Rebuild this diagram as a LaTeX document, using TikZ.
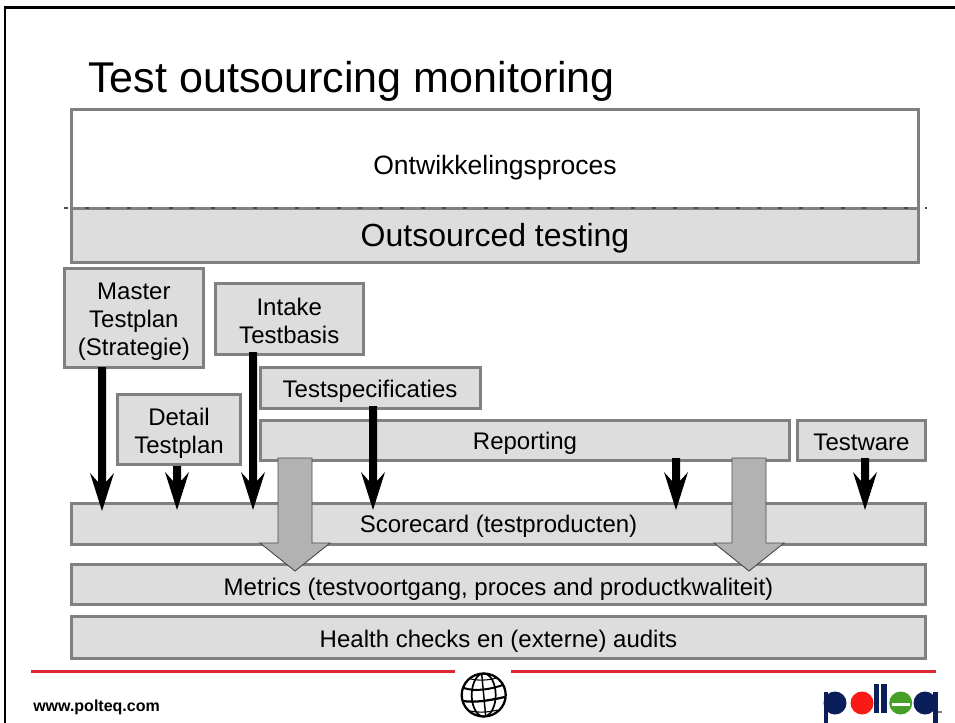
\documentclass[tikz,border=0pt]{standalone}
\usepackage{fontspec}
\setmainfont{Liberation Sans}
\definecolor{boxfill}{RGB}{221,221,221}
\definecolor{boxline}{RGB}{128,128,128}
\definecolor{bigarrow}{RGB}{178,178,178}
\definecolor{redline}{RGB}{221,40,50}
\definecolor{navy}{RGB}{10,30,90}
\definecolor{qred}{RGB}{250,25,20}
\definecolor{qgreen}{RGB}{70,160,40}
\tikzset{
  bx/.style={draw=boxline,fill=boxfill,line width=2.25pt,inner sep=0pt,outer sep=0pt},
  lb/.style={align=center,inner sep=0pt,outer sep=0pt,font=\fontsize{18}{21}\selectfont},
  gry/.style={fill=bigarrow,draw=black!70,line width=0.7pt},
}
% name, x1, y1, x2, y2 (centre line of the border, px), box options, label options, text
\newcommand{\bxn}[8]{\node[bx,minimum width={(#4-#2)*0.75pt},minimum height={(#5-#3)*0.75pt},#6,label={[lb,#7]center:{#8}}] (#1) at ({(#2+#4)/2},{(#3+#5)/2}) {};}
\begin{document}
\begin{tikzpicture}[x=0.75pt,y=-0.75pt]
\useasboundingbox (0,0) rectangle (955,723);
\draw[line width=1.6pt] (5,723) -- (5,7.5) -- (955,7.5);
\node[anchor=base west,font=\fontsize{32.3}{36}\selectfont,inner sep=0pt] (title) at (88,93) {Test outsourcing monitoring};
% top boxes
\bxn{dev}{71.5}{109.5}{918.5}{208.5}{fill=white}{font=\fontsize{19.9}{23}\selectfont,yshift=-6.75pt}{Ontwikkelingsproces}
\bxn{out}{71.5}{208.5}{918.5}{262.5}{}{font=\fontsize{24}{27}\selectfont,yshift=-2.25pt}{Outsourced testing}
\coordinate (dl) at (64,208); \coordinate (dr) at (927,208);
\draw[black!70,line width=0.9pt,dash pattern=on 3pt off 12.75pt] (dl) -- (dr);
% lower bars
\bxn{score}{71.5}{503}{925.5}{544.5}{}{yshift=-2.25pt}{Scorecard (testproducten)}
\bxn{metrics}{71.5}{564}{925.5}{604.5}{}{yshift=-3.5pt}{Metrics (testvoortgang, proces and productkwaliteit)}
\bxn{health}{71.5}{616.5}{925.5}{658.5}{}{yshift=-3pt}{Health checks en (externe) audits}
% upper small boxes
\bxn{master}{64.2}{268.5}{203.5}{367.5}{}{yshift=-3pt}{Master\\Testplan\\(Strategie)}
\bxn{intake}{215.5}{284}{363}{354}{}{yshift=-1.5pt}{Intake\\Testbasis}
\bxn{detail}{117.5}{394.5}{240.5}{464.5}{}{yshift=-3pt}{Detail\\Testplan}
\bxn{spec}{260}{367.5}{480}{408}{}{yshift=-3pt}{Testspecificaties}
\bxn{rep}{260.5}{420.5}{789.5}{460.5}{}{yshift=-2.25pt}{Reporting}
\bxn{ware}{797.5}{420.5}{925.5}{460.5}{}{yshift=-1.5pt}{Testware}
% black arrows: x, ytop, ytip
\newcommand{\blkarrow}[3]{\fill[black] (#1-4,#2) -- (#1+4,#2) -- (#1+4,#3-29) -- (#1+12,#3-38) -- (#1,#3) -- (#1-12,#3-38) -- (#1-4,#3-29) -- cycle;}
\blkarrow{102}{367}{511}
\blkarrow{177}{466}{510}
\blkarrow{253}{352}{510}
\blkarrow{373}{406}{510}
\blkarrow{676}{458}{510}
\blkarrow{865}{458}{510}
% grey arrows
\newcommand{\gryarrow}[2]{\draw[gry] (#1-17,#2) -- (#1+17,#2) -- (#1+17,543) -- (#1+35,543) -- (#1,571) -- (#1-35,543) -- (#1-17,543) -- cycle;}
\gryarrow{295}{458}
\gryarrow{749}{458}
% footer
\coordinate (r1) at (31,671.5); \coordinate (r2) at (455,671.5);
\coordinate (r3) at (511,671.5); \coordinate (r4) at (936,671.5);
\draw[redline,line width=2.2pt] (r1) -- (r2);
\draw[redline,line width=2.2pt] (r3) -- (r4);
\node[anchor=base west,inner sep=0pt,font=\bfseries\fontsize{12}{14}\selectfont] (www) at (33,711) {www.polteq.com};
% globe
\begin{scope}[shift={(483.7,695)},line width=1.1pt]
\draw[line width=1.7pt] (0,0) ellipse [x radius=22*0.75pt,y radius=21.5*0.75pt];
\draw[line width=1.3pt] (0,0) ellipse [x radius=12*0.75pt,y radius=21.5*0.75pt];
\draw (-2,-21) -- (2,21);
\draw[line width=1.5pt] (-20,-7) .. controls (-8,-3) and (8,-6) .. (19,-10);
\draw[line width=1.7pt] (-21,6) .. controls (-8,8) and (8,5) .. (21,2);
\draw[line width=0.8pt] (-13,16) .. controls (-4,18) and (6,17) .. (14,15);
\draw[line width=0.8pt] (-13,-16) .. controls (-4,-14) and (6,-15) .. (13,-17);
\end{scope}
% logo
\fill[navy] (835,703) ellipse [x radius=11.5*0.75pt,y radius=11.5*0.75pt];
\fill[navy] (824,692) rectangle (828,723);
\fill[qred] (862,703) ellipse [x radius=11.5*0.75pt,y radius=11.5*0.75pt];
\fill[navy] (874,684) rectangle (878.5,713);
\fill[navy] (881,684) rectangle (886.5,713);
\fill[qgreen] (900.7,703) ellipse [x radius=11.5*0.75pt,y radius=11.5*0.75pt];
\fill[white] (892,702.5) rectangle (910,705.5);
\fill[navy] (925,703) ellipse [x radius=11.5*0.75pt,y radius=11.5*0.75pt];
\fill[navy] (933,692) rectangle (938,723);
\fill[black!50] (938,710.5) rectangle (942,713);
\end{tikzpicture}
\end{document}
